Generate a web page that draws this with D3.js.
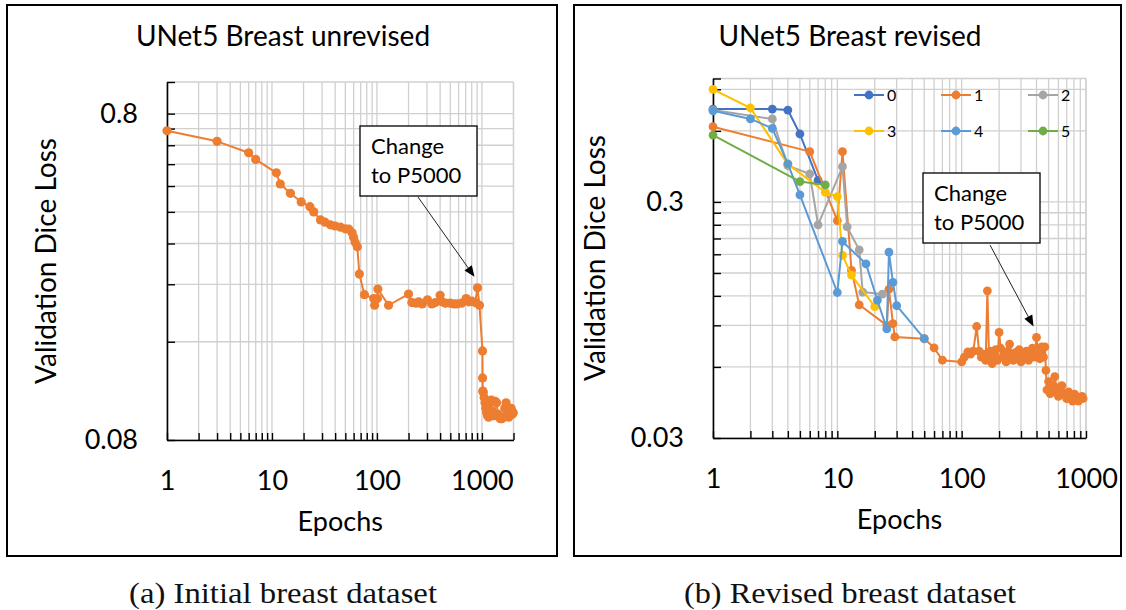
<!DOCTYPE html>
<html>
<head>
<meta charset="utf-8">
<script src="https://cdn.jsdelivr.net/npm/d3@7"></script>
<style>
body { margin: 0; background: #fff; }
text { font-family: Lato, "Open Sans", sans-serif; fill: #000; }
.caption { font-family: "Liberation Serif", "DejaVu Serif", serif; fill: #111; }
</style>
</head>
<body>
<svg width="1126" height="610"></svg>
<script>
// ---- data ----
var xTickLabels = [1, 10, 100, 1000];
var yTickLabelsUnrev = [0.08, 0.8];
var yTickLabelsRev = [0.03, 0.3];

var unrevEpochs = [1,3,6,7,11,12,15,19,23,25,29,32,36,40,45,50,54,58,60,62,
  65,68,76,93,95,101,102,129,200,215,236,250,270,303,333,360,400,416,450,499,
  540,578,640,708,750,803,863,908,948,1013,1015,1020,1030,1050,1070,1090,1110,1130,1160,1200,
  1230,1260,1300,1340,1380,1420,1460,1500,1550,1600,1650,1700,1750,1800,1850,1900,1950,1990];
var unrevLoss = [0.709,0.658,0.607,0.579,0.527,0.487,0.456,0.429,0.415,0.400,
  0.378,0.372,0.365,0.362,0.359,0.355,0.354,0.345,0.334,0.323,
  0.313,0.258,0.223,0.217,0.207,0.217,0.232,0.207,0.224,0.211,
  0.210,0.212,0.209,0.215,0.209,0.211,0.222,0.212,0.210,0.210,
  0.209,0.209,0.210,0.217,0.212,0.213,0.211,0.234,0.207,0.150,
  0.124,0.113,0.112,0.108,0.104,0.100,0.097,0.095,0.094,0.104,
  0.106,0.098,0.095,0.105,0.104,0.096,0.094,0.093,0.093,0.094,
  0.100,0.104,0.096,0.094,0.098,0.100,0.096,0.097];

var revNames = ['0', '1', '2', '3', '4', '5'];

var rev0Epochs = [1, 3, 4, 5, 7];
var rev0Loss = [0.742, 0.742, 0.735, 0.582, 0.370];

var rev1Epochs = [1,6,10,11,13,15,25,26,28,29,50,60,70,100,
  105,112,118,124,132,138,144,150,156,161,166,170,176,182,188,194,200,206,212,220,
  228,236,243,252,260,270,280,290,300,310,320,332,345,358,370,385,400,412,425,440,
  455,467,476,485,500,515,530,545,561,580,600,620,640,660,675,700,725,750,780,810,
  840,870,900,930,948];
var rev1Loss = [0.625,0.49,0.25,0.49,0.154,0.110,0.090,0.128,0.0916,0.0804,0.079,0.0723,0.0641,0.063,
  0.066,0.0695,0.068,0.070,0.089,0.070,0.066,0.068,0.064,0.126,0.066,0.070,0.062,0.067,0.071,0.064,0.084,0.072,0.066,0.068,
  0.063,0.070,0.075,0.067,0.064,0.069,0.065,0.071,0.063,0.068,0.066,0.070,0.064,0.067,0.072,0.066,0.080,0.068,0.065,0.073,
  0.066,0.0729,0.058,0.048,0.052,0.0462,0.050,0.047,0.0546,0.049,0.045,0.048,0.050,0.046,0.0462,0.044,0.047,0.045,0.043,0.046,
  0.044,0.043,0.0445,0.045,0.0441];

var rev2Epochs = [1, 3, 4, 6, 7, 11, 12, 15, 16, 23];
var rev2Loss = [0.735, 0.674, 0.4275, 0.394, 0.24, 0.423, 0.235, 0.188, 0.1245, 0.122];

var rev3Epochs = [1, 2, 4, 8, 10, 11, 13, 20];
var rev3Loss = [0.90, 0.75, 0.434, 0.33, 0.316, 0.178, 0.147, 0.108];

var rev4Epochs = [1, 2, 3, 4, 5, 10, 11, 17, 21, 25, 26, 28, 30, 50];
var rev4Loss = [0.73, 0.674, 0.615, 0.435, 0.3215, 0.124, 0.204, 0.164, 0.115, 0.087, 0.184, 0.137, 0.109, 0.079];

var rev5Epochs = [1, 5, 8];
var rev5Loss = [0.576, 0.366, 0.354];

// annotated point (change to P5000)
var unrevChange = [908, 0.234];
var revChange = [400, 0.080];

// ---- drawing ----
var colors = ['#4472C4', '#ED7D31', '#A5A5A5', '#FFC000', '#5B9BD5', '#70AD47'];
var svg = d3.select('svg');
svg.append('rect').attr('width', 1126).attr('height', 610).attr('fill', '#fff');

function zip(xs, ys) {
  return xs.map(function(x, i) { return [x, ys[i]]; });
}

function logGrid(base, max) {
  var vals = [];
  for (var p = 1; base * p <= max * 1.0001; p *= 10) {
    for (var k = 1; k <= 9; k++) {
      var v = base * k * p;
      if (v <= max * 1.0001) vals.push(v);
    }
  }
  return vals;
}

function panel(o) {
  var g = svg.append('g');
  g.append('rect')
    .attr('x', o.box[0]).attr('y', o.box[1]).attr('width', o.box[2]).attr('height', o.box[3])
    .attr('fill', 'none').attr('stroke', '#000').attr('stroke-width', 2);

  g.append('text').attr('x', o.titleX).attr('y', 46).attr('text-anchor', 'middle')
    .style('font-size', '28px').text(o.title);

  var x = d3.scaleLog().domain(o.xDomain).range(o.xRange);
  var y = d3.scaleLog().domain(o.yDomain).range(o.yRange);

  var xg = logGrid(1, o.xDomain[1]);
  var yg = logGrid(o.yDomain[0], o.yDomain[1]);

  var grid = g.append('g').attr('stroke', '#d0d0d0').attr('stroke-width', 1.3);
  grid.selectAll('.vx').data(xg).enter().append('line')
    .attr('x1', function(d) { return x(d); }).attr('x2', function(d) { return x(d); })
    .attr('y1', o.yRange[0]).attr('y2', o.yRange[1]);
  grid.selectAll('.hy').data(yg.concat([o.yDomain[1]])).enter().append('line')
    .attr('y1', function(d) { return y(d); }).attr('y2', function(d) { return y(d); })
    .attr('x1', o.xRange[0]).attr('x2', o.xRange[1]);
  grid.append('line').attr('x1', o.xRange[1]).attr('x2', o.xRange[1])
    .attr('y1', o.yRange[0]).attr('y2', o.yRange[1]);

  var xAxis = d3.axisBottom(x).tickValues(xg).tickSizeInner(-7).tickSizeOuter(0).tickPadding(31)
    .tickFormat(function(d) { return xTickLabels.indexOf(d) >= 0 ? d : ''; });
  var ax = g.append('g').attr('transform', 'translate(0,' + o.yRange[0] + ')').call(xAxis);
  ax.attr('font-family', null).attr('font-size', null);
  ax.selectAll('text').style('font-size', '27px');
  ax.select('.domain').attr('stroke-width', 1.6);
  ax.selectAll('.tick line').attr('stroke-width', 1.4);

  var yAxis = d3.axisLeft(y).tickValues(yg.concat([o.yDomain[1]])).tickSizeInner(-8).tickSizeOuter(0).tickPadding(29)
    .tickFormat(function(d) {
      for (var i = 0; i < o.yLabels.length; i++) if (Math.abs(d - o.yLabels[i]) < 1e-9) return String(o.yLabels[i]);
      return '';
    });
  var ay = g.append('g').attr('transform', 'translate(' + o.xRange[0] + ',0)').call(yAxis);
  ay.attr('font-family', null).attr('font-size', null);
  ay.selectAll('text').style('font-size', '27px');
  ay.select('.domain').attr('stroke-width', 1.6);
  ay.selectAll('.tick line').attr('stroke-width', 1.4);

  var line = d3.line().x(function(d) { return x(d[0]); }).y(function(d) { return y(d[1]); });
  o.series.forEach(function(s) {
    g.append('path').datum(s.pts).attr('d', line)
      .attr('fill', 'none').attr('stroke', s.color).attr('stroke-width', 2).attr('stroke-linejoin', 'round');
    g.selectAll(null).data(s.pts).enter().append('circle')
      .attr('cx', function(d) { return x(d[0]); }).attr('cy', function(d) { return y(d[1]); })
      .attr('r', o.r).attr('fill', s.color);
  });

  // annotation
  var b = o.note;
  g.append('rect').attr('x', b[0]).attr('y', b[1]).attr('width', b[2]).attr('height', b[3])
    .attr('fill', '#fff').attr('stroke', '#000').attr('stroke-width', 1.3);
  g.append('text').attr('x', b[0] + 11).attr('y', b[1] + 28).style('font-size', '22px').text('Change');
  g.append('text').attr('x', b[0] + 11).attr('y', b[1] + 57).style('font-size', '22px').text('to P5000');
  var tx = x(o.change[0]) - 3, ty = y(o.change[1]) - 11;
  var sx = o.arrowStart[0], sy = o.arrowStart[1];
  var ang = Math.atan2(ty - sy, tx - sx);
  var hl = 11, hw = 4.5;
  var bx = tx - hl * Math.cos(ang), by = ty - hl * Math.sin(ang);
  g.append('line').attr('x1', sx).attr('y1', sy).attr('x2', bx).attr('y2', by)
    .attr('stroke', '#222').attr('stroke-width', 1);
  g.append('path').attr('fill', '#000')
    .attr('d', 'M' + tx + ',' + ty +
      'L' + (bx + hw * Math.sin(ang)) + ',' + (by - hw * Math.cos(ang)) +
      'L' + (bx - hw * Math.sin(ang)) + ',' + (by + hw * Math.cos(ang)) + 'Z');

  g.append('text').attr('transform', 'translate(' + o.yLabelPos[0] + ',' + o.yLabelPos[1] + ') rotate(-90)')
    .attr('text-anchor', 'middle').attr('dy', '0.35em').style('font-size', '28px').text('Validation Dice Loss');
  g.append('text').attr('x', (o.xRange[0] + o.xRange[1]) / 2).attr('y', o.yRange[0] + 91)
    .attr('text-anchor', 'middle').style('font-size', '27px').text('Epochs');

  g.append('text').attr('class', 'caption').attr('x', o.titleX).attr('y', 603)
    .attr('text-anchor', 'middle').style('font-size', '30px')
    .attr('textLength', o.captionLen).attr('lengthAdjust', 'spacingAndGlyphs').text(o.caption);

  return { g: g, x: x, y: y };
}

panel({
  box: [7, 5, 550, 551], title: 'UNet5 Breast unrevised', titleX: 283,
  xDomain: [1, 2000], xRange: [167, 513.5],
  yDomain: [0.08, 1], yRange: [440, 82], yLabels: yTickLabelsUnrev, r: 4.6,
  series: [{ pts: zip(unrevEpochs, unrevLoss), color: colors[1] }],
  note: [360, 126, 117, 70], change: unrevChange, arrowStart: [418, 197],
  yLabelPos: [46, 261], caption: '(a) Initial breast dataset', captionLen: 308
});

var revSeries = [
  zip(rev0Epochs, rev0Loss), zip(rev1Epochs, rev1Loss), zip(rev2Epochs, rev2Loss),
  zip(rev3Epochs, rev3Loss), zip(rev4Epochs, rev4Loss), zip(rev5Epochs, rev5Loss)
].map(function(p, i) { return { pts: p, color: colors[i] }; });

var rp = panel({
  box: [574, 5, 547, 551], title: 'UNet5 Breast revised', titleX: 850,
  xDomain: [1, 1000], xRange: [713, 1086],
  yDomain: [0.03, 1], yRange: [438, 78.5], yLabels: yTickLabelsRev, r: 4.4,
  series: revSeries,
  note: [923, 173, 117, 70], change: revChange, arrowStart: [990, 245],
  yLabelPos: [595, 258], caption: '(b) Revised breast dataset', captionLen: 332
});

// legend, 3 columns x 2 rows
var leg = rp.g.append('g');
revNames.forEach(function(n, i) {
  var lx = 854 + (i % 3) * 87, ly = 95 + Math.floor(i / 3) * 36;
  leg.append('line').attr('x1', lx).attr('x2', lx + 30).attr('y1', ly).attr('y2', ly)
    .attr('stroke', colors[i]).attr('stroke-width', 2);
  leg.append('circle').attr('cx', lx + 15).attr('cy', ly).attr('r', 4.4).attr('fill', colors[i]);
  leg.append('text').attr('x', lx + 33).attr('y', ly).attr('dy', '0.35em').style('font-size', '16px').text(n);
});
</script>
</body>
</html>
